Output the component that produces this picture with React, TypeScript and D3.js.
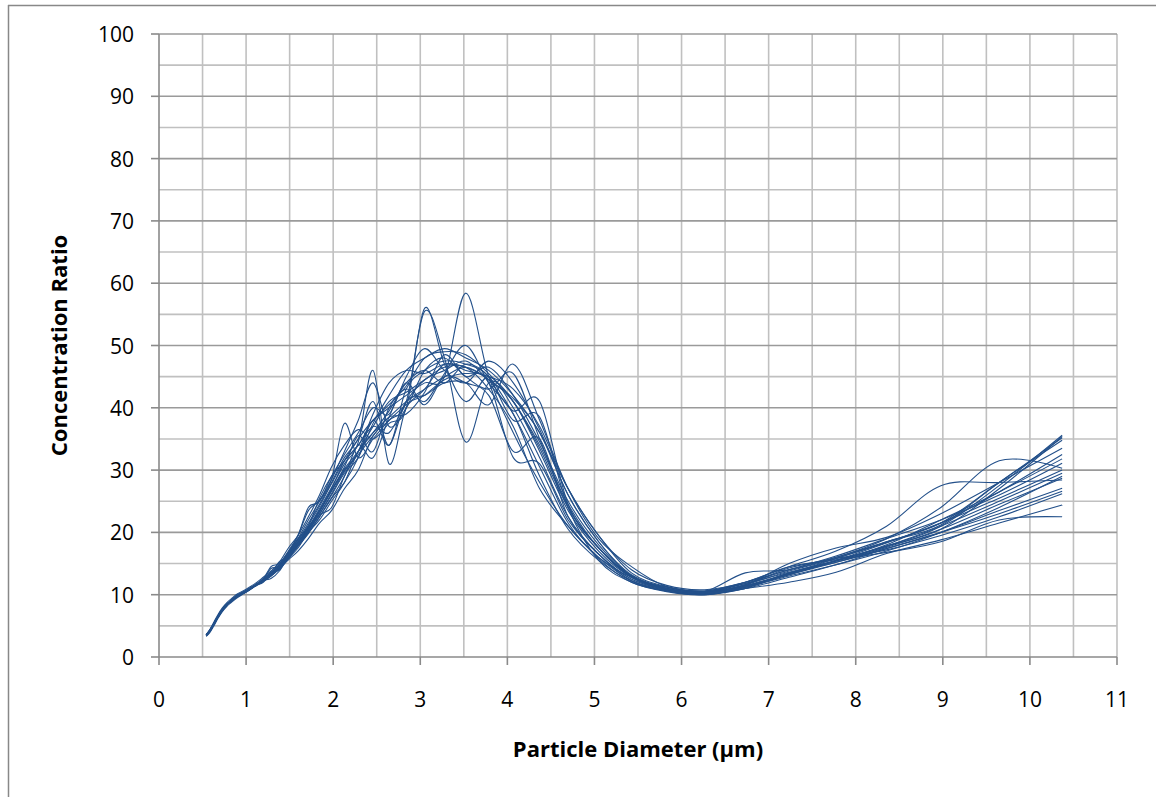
import React from "react";
import * as d3 from "d3";

const diameters = [0.542,0.583,0.626,0.673,0.723,0.777,0.835,0.898,0.965,1.037,1.114,1.197,1.286,1.382,1.486,1.596,1.715,1.843,1.981,2.129,2.288,2.458,2.642,2.839,3.051,3.278,3.523,3.786,4.068,4.371,4.698,5.048,5.425,5.829,6.264,6.732,7.234,7.774,8.354,8.977,9.647,10.37];

const s1 = [3.4,4.1,5.1,6.3,7.4,8.3,9.0,9.7,10.2,10.8,11.5, 12.0,13.4,14.0,15.8,17.5,20.0,22.0,25.0,28.0,33.0,36.0,38.5,41.0,43.0,45.0,46.5,44.5,41.0,33.5,24.0,17.5, 13.0,11.0,10.2,11.0,13.5,15.5,17.8,21.0,27.5,35.6];
const s2 = [3.6,4.4,5.5,6.7,7.8,8.7,9.4,10.1,10.6,11.2,11.9, 12.8,13.8,15.2,17.5,19.5,22.5,26.0,30.5,34.0,36.5,35.0,37.5,40.0,56.0,47.0,41.0,45.0,40.0,32.0,22.5,16.5, 12.5,10.8,10.0,11.2,13.4,15.4,17.8,20.5,27.0,35.4];
const s3 = [3.5,4.2,5.2,6.4,7.5,8.4,9.1,9.8,10.3,10.9,11.6, 12.4,14.2,14.5,16.3,18.4,20.8,23.5,27.0,31.5,35.0,38.0,40.0,42.0,44.0,45.0,58.4,45.0,36.0,28.0,21.0,16.0, 12.3,10.7,10.2,11.6,13.8,15.8,18.5,21.5,28.0,35.2];
const s4 = [3.5,4.2,5.2,6.3,7.4,8.3,9.0,9.7,10.2,10.8,11.5, 12.2,13.1,14.2,15.6,17.0,19.0,21.5,23.5,27.0,30.0,35.5,38.0,41.0,55.5,48.0,34.5,44.0,41.0,33.0,23.5,17.0, 12.8,11.0,10.4,11.8,14.0,16.0,18.5,21.2,28.0,34.8];
const s5 = [3.3,3.9,4.9,6.1,7.2,8.1,8.8,9.5,10.1,10.7,11.5, 12.6,13.5,14.8,16.6,18.8,21.5,24.5,28.0,32.0,35.0,41.0,34.0,43.0,46.0,47.5,47.0,45.0,38.0,38.5,24.0,15.5, 12.0,10.5,10.0,11.2,13.2,15.4,18.0,22.0,26.5,31.8];
const s6 = [3.6,4.3,5.3,6.5,7.6,8.5,9.2,9.9,10.4,11.0,11.7, 12.5,14.5,15.0,16.8,19.0,21.0,25.5,29.0,31.5,34.0,37.0,36.0,41.0,44.5,46.0,47.5,44.5,41.5,36.0,26.0,18.5, 13.0,11.0,10.5,13.5,14.0,16.0,19.0,24.0,31.5,30.3];
const s7 = [3.5,4.2,5.2,6.4,7.5,8.4,9.1,9.8,10.3,10.9,11.6, 12.3,13.2,14.3,16.0,18.0,20.2,22.8,24.0,29.0,33.0,37.0,41.0,42.5,44.5,46.5,46.5,43.0,37.0,27.0,21.0,16.0, 12.8,11.2,10.6,12.0,14.0,16.2,19.0,22.0,26.0,31.1];
const s8 = [3.4,4.1,5.1,6.3,7.4,8.3,9.0,9.7,10.2,10.8,11.4, 12.1,13.0,14.2,15.8,17.8,20.0,22.5,25.5,28.0,32.0,38.0,34.0,41.0,42.0,44.0,44.0,40.5,47.0,38.0,27.0,19.0, 14.5,11.3,10.6,11.8,13.6,15.5,17.8,21.0,25.0,29.5];
const s9 = [3.5,4.2,5.2,6.4,7.5,8.4,9.1,9.8,10.3,10.9,11.6, 12.3,12.6,13.8,16.2,18.3,20.8,23.8,27.2,31.0,34.5,46.0,31.0,40.0,42.0,44.5,45.5,44.0,32.0,31.0,22.0,16.5, 12.5,10.8,10.2,11.4,13.2,15.2,17.6,20.5,24.5,28.7];
const s10 = [3.6,4.3,5.3,6.4,7.5,8.4,9.1,9.8,10.3,10.9,11.6, 12.4,13.3,14.6,16.4,18.6,21.2,24.2,27.8,31.5,34.0,38.0,40.5,43.5,48.0,49.0,48.5,45.5,41.0,34.0,24.5,17.5, 13.0,11.0,10.4,12.0,14.5,17.0,21.0,27.5,28.0,28.4];
const s11 = [3.4,4.1,5.1,6.3,7.4,8.3,9.0,9.7,10.2,10.8,11.5, 12.2,13.1,14.3,16.5,19.0,22.0,25.0,28.5,37.5,32.0,35.0,38.0,40.5,43.0,47.0,46.0,45.0,43.0,37.0,27.0,19.5, 13.5,11.3,10.5,11.5,13.4,15.2,17.4,20.0,23.5,27.1];
const s12 = [3.5,4.2,5.2,6.4,7.5,8.4,9.1,9.8,10.3,10.9,11.6, 12.3,13.2,14.5,16.3,18.4,20.7,23.5,26.8,30.5,35.5,33.0,40.0,43.0,41.0,45.0,44.0,42.0,33.0,35.0,22.5,16.5, 12.2,10.6,10.0,11.0,12.8,14.8,17.4,20.0,23.0,26.6];
const s13 = [3.5,4.2,5.2,6.4,7.5,8.4,9.1,9.8,10.3,10.9,11.6, 12.3,13.2,15.3,16.1,18.1,20.4,23.0,26.2,29.8,32.5,35.5,38.5,39.0,42.5,48.5,45.0,46.5,42.0,34.5,25.0,18.0, 13.0,11.0,10.4,11.6,14.3,15.8,17.2,19.5,22.5,26.2];
const s14 = [3.6,4.3,5.3,6.5,7.6,8.5,9.2,9.9,10.4,11.0,11.7, 12.4,13.3,14.5,16.3,18.3,20.6,23.4,26.7,30.2,33.0,36.0,39.5,44.0,46.0,44.0,47.0,45.0,39.0,30.5,21.5,15.8, 12.0,10.6,10.1,11.0,12.0,13.6,16.6,18.8,21.5,24.4];
const s15 = [3.4,4.1,5.1,6.3,7.4,8.3,9.0,9.7,10.2,10.8,11.5, 12.2,13.0,14.2,15.9,17.9,20.2,22.9,26.0,29.5,32.0,37.5,42.0,46.0,48.0,49.5,48.0,46.0,42.0,36.0,27.0,19.5, 14.0,11.5,10.8,12.0,14.5,15.6,16.8,18.5,22.0,22.5];
const s16 = [3.5,4.2,5.2,6.4,7.5,8.4,9.1,9.8,10.3,10.9,11.6, 12.3,13.2,14.4,16.2,18.2,20.5,23.3,26.6,30.0,33.0,39.0,44.0,46.0,45.5,47.0,46.5,44.5,39.5,41.0,24.5,17.5, 12.8,10.9,10.3,11.4,13.4,15.8,18.4,21.5,26.5,32.5];
const s17 = [3.5,4.2,5.2,6.4,7.5,8.4,9.1,9.8,10.3,10.9,11.6, 12.4,13.6,14.8,16.8,19.5,24.0,25.0,29.0,32.5,36.0,40.0,39.0,45.0,49.5,46.0,44.0,47.5,44.0,36.5,26.0,18.5, 13.2,11.2,10.4,11.6,15.0,17.5,19.2,23.0,28.0,33.5];
const s18 = [3.6,4.3,5.3,6.4,7.5,8.4,9.1,9.8,10.3,10.9,11.6, 12.3,13.2,14.4,16.0,17.8,19.8,22.5,25.5,29.0,34.0,32.0,38.5,44.0,40.5,45.5,50.0,44.0,39.0,29.0,20.5,15.5, 12.2,10.7,10.1,11.2,13.0,14.8,17.0,20.0,24.0,29.0];
const s19 = [3.5,4.2,5.2,6.4,7.5,8.4,9.1,9.8,10.3,10.9,11.6, 12.5,13.5,14.9,17.0,19.5,23.5,25.2,28.5,33.0,38.0,44.0,37.0,40.0,46.0,48.0,45.0,43.0,45.5,35.0,24.0,17.5, 12.8,10.9,10.3,11.3,13.3,15.5,18.3,21.5,25.5,30.0];

const seriesList = [s1,s2,s3,s4,s5,s6,s7,s8,s9,s10,s11,s12,s13,s14,s15,s16,s17,s18,s19];

const xTicks = [0,1,2,3,4,5,6,7,8,9,10,11];
const yTicks = [0,10,20,30,40,50,60,70,80,90,100];
const xGrid = d3.range(1, 23).map((k) => k * 0.5);
const yGrid = d3.range(1, 21).map((k) => k * 5);

const W = 1156, H = 797;
const L = 159, R = 1117, T = 34, B = 657;
const FONT = "'Open Sans', sans-serif";

export default function App() {
  const x = d3.scaleLinear().domain([0, 11]).range([L, R]);
  const y = d3.scaleLinear().domain([0, 100]).range([B, T]);
  const line = d3
    .line<number>()
    .x((_, i) => x(diameters[i]))
    .y((v) => y(v))
    .curve(d3.curveCatmullRom.alpha(0));

  return (
    <svg width={W} height={H} style={{ position: "absolute", left: 0, top: 0, background: "#fff" }}>
      <line x1={8.5} y1={5} x2={8.5} y2={H} stroke="#888" strokeWidth={1.5} />
      <line x1={8} y1={5.5} x2={W} y2={5.5} stroke="#888" strokeWidth={1.5} />
      {xGrid.map((g) => (
        <line key={"vx" + g} x1={x(g)} x2={x(g)} y1={T} y2={B} stroke="#c0c0c0" strokeWidth={1.6} />
      ))}
      {yGrid.map((g) => (
        <line key={"hy" + g} x1={L} x2={R} y1={y(g)} y2={y(g)}
          stroke={g % 10 === 0 ? "#9a9a9a" : "#c0c0c0"} strokeWidth={1.6} />
      ))}
      <line x1={L} x2={L} y1={T} y2={B} stroke="#8a8a8a" strokeWidth={1.6} />
      <line x1={L} x2={R} y1={B} y2={B} stroke="#8a8a8a" strokeWidth={1.6} />
      {yTicks.map((t) => (
        <g key={"yt" + t}>
          <line x1={L - 8} x2={L} y1={y(t)} y2={y(t)} stroke="#8a8a8a" strokeWidth={1.6} />
          <text x={134} y={y(t) + 8} textAnchor="end" fontFamily={FONT} fontSize={21} fill="#000">{t}</text>
        </g>
      ))}
      {xTicks.map((t) => (
        <g key={"xt" + t}>
          <line x1={x(t)} x2={x(t)} y1={B} y2={B + 8} stroke="#8a8a8a" strokeWidth={1.6} />
          <text x={x(t)} y={707} textAnchor="middle" fontFamily={FONT} fontSize={21} fill="#000">{t}</text>
        </g>
      ))}
      <g>
        {seriesList.map((s, i) => (
          <path key={"s" + i} d={line(s) || ""} fill="none" stroke="#23508a" strokeWidth={1.1} />
        ))}
      </g>
      <text x={(L + R) / 2} y={757} textAnchor="middle" fontFamily={FONT} fontWeight="bold" fontSize={22} fill="#000">
        Particle Diameter (µm)
      </text>
      <text transform={`translate(67,${(T + B) / 2}) rotate(-90)`} textAnchor="middle" fontFamily={FONT} fontWeight="bold" fontSize={22} fill="#000">
        Concentration Ratio
      </text>
    </svg>
  );
}
